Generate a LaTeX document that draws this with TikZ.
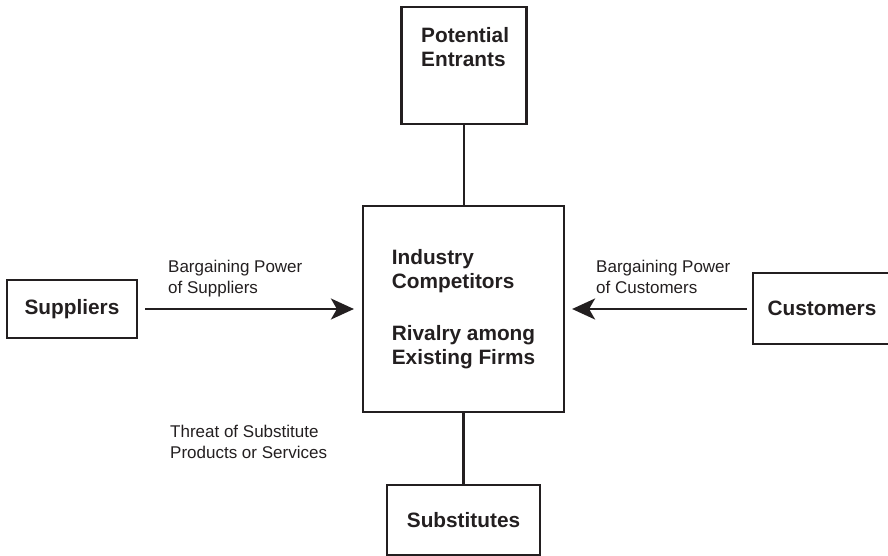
\documentclass[tikz,border=0pt]{standalone}
\usepackage{fontspec}
\setmainfont{Liberation Sans}
\usetikzlibrary{arrows.meta}
\definecolor{ink}{HTML}{231F20}
\begin{document}
\begin{tikzpicture}[x=1pt,y=-1pt,
  box/.style={draw=ink, line width=2.2pt, rectangle, inner sep=0pt, text=ink,
    font=\bfseries\fontsize{20.8}{24}\selectfont},
  boxtext/.style={inner sep=0pt, anchor=base west, align=left, text=ink,
    font=\bfseries\fontsize{20.8}{24}\selectfont},
  lbl/.style={inner sep=0pt, anchor=base west, align=left, text=ink,
    font=\fontsize{17}{21}\selectfont},
  link/.style={draw=ink, line width=2.2pt},
  push/.style={link, -{Stealth[length=23pt,width=21pt,inset=6pt]}}]
\useasboundingbox (0,0) rectangle (888,556);
\clip (0,0) rectangle (888,556);

% the five forces (multi-line texts are anchored at the baseline of their last line)
\node[box, minimum width=125pt, minimum height=117pt] (entrants) at (464,65.5) {};
\node[boxtext] (entrantsText) at (421,67) {Potential\\Entrants};
\node[box, minimum width=201pt, minimum height=206pt, align=left] (rivalry) at (463.5,309)
  {Industry\\Competitors\\[28pt]Rivalry among\\Existing Firms};
\node[box, minimum width=130pt, minimum height=58pt] (suppliers) at (72,309) {Suppliers};
\node[box, minimum width=138pt, minimum height=71pt] (customers) at (822,308.5) {Customers};
\node[box, minimum width=153pt, minimum height=70pt] (substitutes) at (463.5,520) {Substitutes};

% connectors
\draw[link] (entrants.south) -- (entrants.south |- rivalry.north);
\draw[link] (rivalry.south) -- (rivalry.south |- substitutes.north);
\draw[push, shorten <=7pt, shorten >=8pt] (suppliers.east) -- (suppliers.east -| rivalry.west);
\draw[push, shorten <=5pt, shorten >=7pt] (customers.west |- suppliers.east) -- (rivalry.east |- suppliers.east);

% force labels
\node[lbl] (supLbl) at (168,293) {Bargaining Power\\of Suppliers};
\node[lbl] (cusLbl) at (596,293) {Bargaining Power\\of Customers};
\node[lbl] (subLbl) at (170,458) {Threat of Substitute\\Products or Services};
\end{tikzpicture}
\end{document}
